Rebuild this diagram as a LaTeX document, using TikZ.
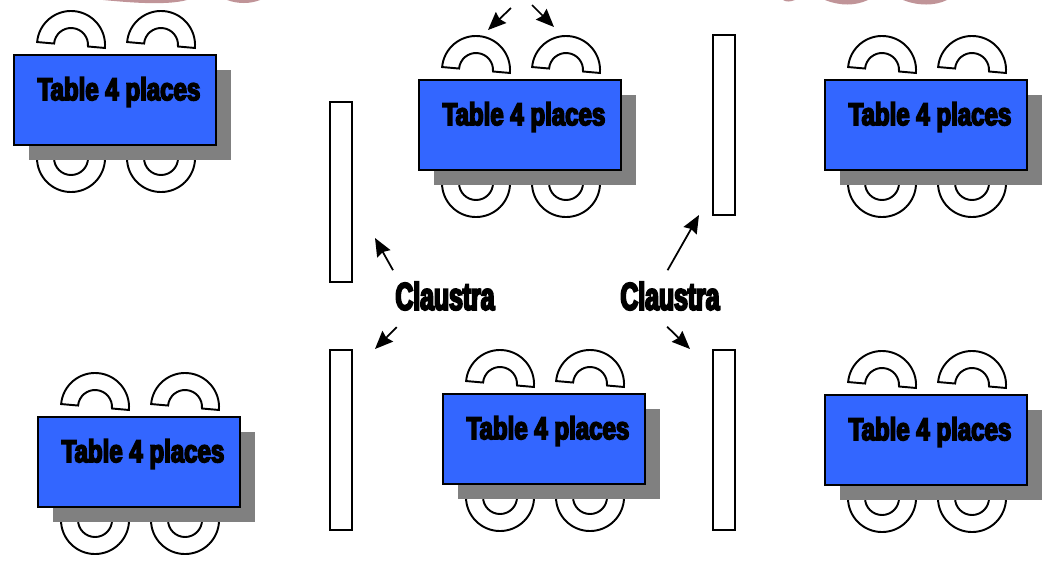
\documentclass[tikz,border=0pt]{standalone}
\usepackage{fontspec}
\usetikzlibrary{arrows.meta}
\newfontfamily\heavyfont[FakeBold=5,FakeStretch=0.76]{Liberation Sans Bold}
\newfontfamily\heavynarrow[FakeBold=5,FakeStretch=0.64]{Liberation Sans Bold}
\definecolor{tableblue}{HTML}{3366FF}
\definecolor{shadowgray}{HTML}{808080}
\definecolor{rosepink}{HTML}{C09498}
\tikzset{
	x=0.01cm,y=-0.01cm,
	tablebox/.style={draw=black,line width=0.6pt,fill=tableblue,minimum width=2.02cm,minimum height=0.9cm,inner sep=0pt,outer sep=0pt,anchor=north west},
	shadowbox/.style={fill=shadowgray,minimum width=2.02cm,minimum height=0.9cm,inner sep=0pt,outer sep=0pt,anchor=north west},
	screenbox/.style={draw=black,line width=0.5pt,fill=white,minimum width=0.22cm,minimum height=1.8cm,inner sep=0pt,outer sep=0pt,anchor=north west},
	tabletext/.style={font=\heavyfont\fontsize{9}{10}\selectfont,inner sep=0pt},
	claustratext/.style={font=\heavynarrow\fontsize{11}{12}\selectfont,inner sep=0pt},
	pointer/.style={draw=black,line width=0.5pt,-{Stealth[length=0.18cm,width=0.15cm,inset=0.02cm]}},
	seat/.style={draw=black,line width=0.55pt,fill=white}
}
% one chair: half ring opening downwards (top row) or upwards (bottom row)
\newcommand{\seattop}[2]{
	\draw[seat,rotate around={-5:(#1,#2)}] (#1-34,#2) arc[start angle=180,end angle=0,radius=0.34cm] -- ++(-17,0) arc[start angle=0,end angle=180,radius=0.17cm] -- cycle;
}
\newcommand{\seatbottom}[2]{
	\draw[seat] (#1-34,#2) arc[start angle=180,end angle=360,radius=0.34cm] -- ++(-17,0) arc[start angle=360,end angle=180,radius=0.17cm] -- cycle;
}
% table at top left corner, with its chairs, shadow and label
\newcommand{\tableset}[3]{
	\seatbottom{#2+57}{#3+103}
	\seatbottom{#2+147}{#3+103}
	\node[shadowbox] (#1s) at (#2+15,#3+15) {};
	\seattop{#2+57}{#3-10}
	\seattop{#2+147}{#3-10}
	\node[tablebox] (#1) at (#2,#3) {};
	\node[tabletext] (#1t) at (#2+105,#3+37) {Table 4 places};
}
\begin{document}
\begin{tikzpicture}
	\useasboundingbox (0,0) rectangle (1048,563);
	% pink leftovers along the top edge
	\fill[rosepink] (103,0) .. controls (125,2) and (165,6) .. (187,0) -- cycle;
	\fill[rosepink] (227,0) .. controls (238,4) and (250,4) .. (260,0) -- cycle;
	\fill[rosepink] (783,0) .. controls (786,2) and (790,2) .. (795,0) -- cycle;
	\fill[rosepink] (825,0) .. controls (840,6) and (855,6) .. (868,0) -- cycle;
	\fill[rosepink] (903,0) .. controls (918,6) and (935,6) .. (947,0) -- cycle;
	% tables
	\tableset{tableA}{14}{55}
	\tableset{tableB}{419}{80}
	\tableset{tableC}{825}{80}
	\tableset{tableD}{38}{417}
	\tableset{tableE}{443}{394}
	\tableset{tableF}{825}{395}
	% screens
	\node[screenbox] (screenA) at (330,102) {};
	\node[screenbox] (screenB) at (330,350) {};
	\node[screenbox] (screenC) at (713,35) {};
	\node[screenbox] (screenD) at (713,350) {};
	% labels
	\node[claustratext] (claustraL) at (445,296) {Claustra};
	\node[claustratext] (claustraR) at (670,296) {Claustra};
	% arrow ends
	\coordinate (endA) at (375,238);
	\coordinate (endB) at (375,349);
	\coordinate (endC) at (699,215);
	\coordinate (endD) at (690,349);
	\draw[pointer,shorten <=0.125cm] (claustraL.162) -- (endA);
	\draw[pointer,shorten <=0.23cm] (claustraL.205) -- (endB);
	\draw[pointer,shorten <=0.125cm] (claustraR.120) -- (endC);
	\draw[pointer,shorten <=0.226cm] (claustraR.218) -- (endD);
	\coordinate (topL) at (511,8);
	\coordinate (topR) at (532,5);
	\coordinate (seatL) at (488,30);
	\coordinate (seatR) at (554,27);
	\draw[pointer] (topL) -- (seatL);
	\draw[pointer] (topR) -- (seatR);
\end{tikzpicture}
\end{document}
